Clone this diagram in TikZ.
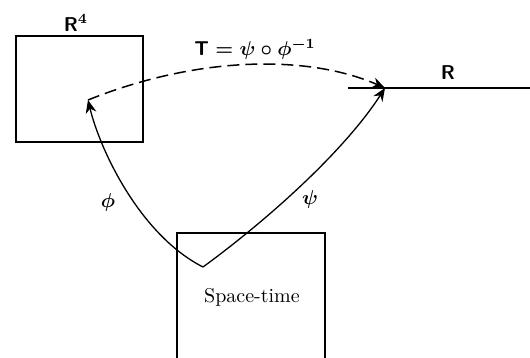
\documentclass[tikz,border=0pt]{standalone}
\usepackage{amsmath}
\usepackage{tikz}
\usetikzlibrary{arrows.meta}
\tikzset{
  regionline/.style={
    line width=1pt
  },
  mapline/.style={
    line width=0.65pt
  },
  maparrow/.style={
    -{Stealth[length=2.3mm,width=1.9mm]},
    line width=0.65pt
  },
  dasharrow/.style={
    -{Stealth[length=2.3mm,width=1.9mm]},
    line width=0.75pt,
    dash pattern=on 6pt off 3pt
  },
  maplabel/.style={
    inner sep=1pt,
    font=\normalsize\boldmath
  }
}

\begin{document}
\begin{tikzpicture}[x=0.5pt, y=-0.5pt]
  \useasboundingbox (0,0) rectangle (530,358);
  % the two regions and the real line
  \draw[regionline] (16,36) rectangle (143,142);
  \draw[regionline] (177,358) -- (177,233) -- (325,233) -- (325,358);
  \coordinate (lstart) at (348,88);
  \coordinate (lend) at (530,88);
  \draw[regionline] (lstart) -- (lend);

  \coordinate (src) at (88,100);
  \coordinate (vtx) at (203,267);
  \coordinate (tgt) at (385,88);

  \node[maplabel] (rfour) at (76,23) {$\mathsf{R}^{4}$};
  \node[maplabel] (rlab) at (448,73) {$\mathsf{R}$};
  \node[maplabel] (tlab) at (255,49) {$\mathsf{T} = \psi\circ\phi^{-1}$};
  \node[maplabel] (philab) at (108,202) {$\phi$};
  \node[maplabel] (psilab) at (310,199) {$\psi$};
  \node[maplabel, font=\normalsize] (stime) at (252,297) {Space-time};

  \draw[maparrow] (vtx) .. controls (140,235) and (100,150) .. (src);
  \draw[maparrow] (vtx) .. controls (270,218) and (345,150) .. (tgt);
  \draw[dasharrow] (src) .. controls (200,55) and (310,55) .. (tgt);
\end{tikzpicture}
\end{document}
